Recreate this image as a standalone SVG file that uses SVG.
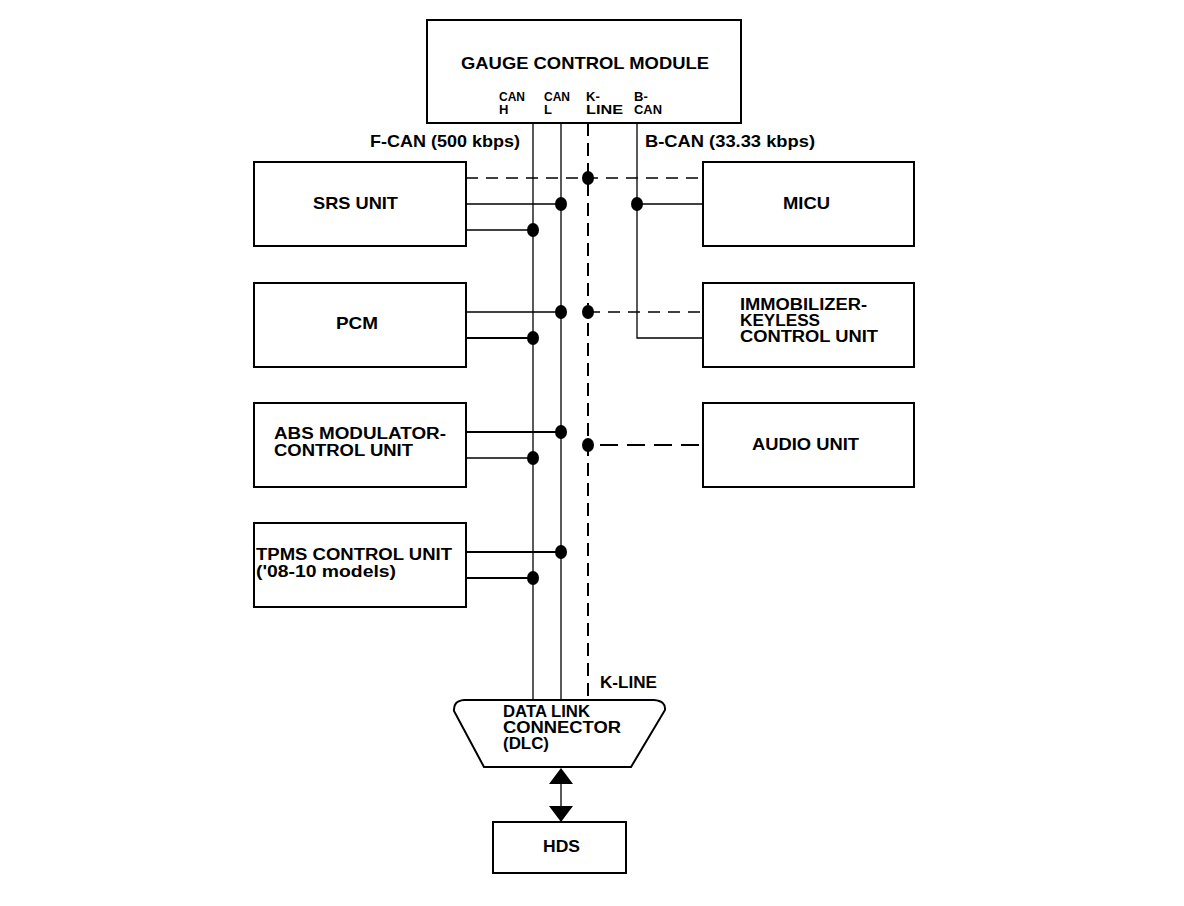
<svg xmlns="http://www.w3.org/2000/svg" width="1184" height="906" viewBox="0 0 1184 906">
<style>
.box{fill:#fff;stroke:#000;stroke-width:2}
.t{font-family:"Liberation Sans",Arial,sans-serif;font-weight:bold;font-size:17px;fill:#000}
.m{font-family:"Liberation Sans",Arial,sans-serif;font-weight:bold;font-size:16px;fill:#000}
.s{font-family:"Liberation Sans",Arial,sans-serif;font-weight:bold;font-size:13px;fill:#000}
.w{fill:none;stroke:#000;stroke-width:1.3}
.wb{fill:none;stroke:#000;stroke-width:2}
.d{fill:none;stroke:#000;stroke-width:1.3;stroke-dasharray:12 8}
.dk{fill:none;stroke:#000;stroke-width:2;stroke-dasharray:13 7}
.da{fill:none;stroke:#000;stroke-width:2;stroke-dasharray:18 9}
.dot{fill:#000}
</style>
<rect width="1184" height="906" fill="#fff"/>
<g id="connectors">
<line class="w" x1="533" y1="123" x2="533" y2="700"/>
<line class="w" x1="561" y1="123" x2="561" y2="700"/>
<line class="dk" x1="588" y1="123" x2="588" y2="700"/>
<polyline class="w" points="637,123 637,338 703,338"/>
<line class="d" x1="466" y1="178" x2="703" y2="178"/>
<line class="w" x1="466" y1="204" x2="561" y2="204"/>
<line class="w" x1="466" y1="230" x2="533" y2="230"/>
<line class="w" x1="637" y1="204" x2="703" y2="204"/>
<line class="w" x1="466" y1="312" x2="561" y2="312"/>
<line class="d" x1="588" y1="312" x2="703" y2="312"/>
<line class="wb" x1="466" y1="338" x2="533" y2="338"/>
<line class="wb" x1="466" y1="432" x2="561" y2="432"/>
<line class="w" x1="466" y1="458" x2="533" y2="458"/>
<line class="da" x1="600" y1="445" x2="703" y2="445"/>
<line class="wb" x1="466" y1="552" x2="561" y2="552"/>
<line class="wb" x1="466" y1="578" x2="533" y2="578"/>
<line class="w" x1="561" y1="782" x2="561" y2="808"/>
<polygon class="dot" points="561,768 549,784 573,784"/>
<polygon class="dot" points="549,806 573,806 561,822"/>
<ellipse class="dot" cx="588" cy="178" rx="6" ry="7"/>
<ellipse class="dot" cx="561" cy="204" rx="6" ry="7"/>
<ellipse class="dot" cx="533" cy="230" rx="6" ry="7"/>
<ellipse class="dot" cx="637" cy="204" rx="6" ry="7"/>
<ellipse class="dot" cx="561" cy="312" rx="6" ry="7"/>
<ellipse class="dot" cx="588" cy="312" rx="6" ry="7"/>
<ellipse class="dot" cx="533" cy="338" rx="6" ry="7"/>
<ellipse class="dot" cx="561" cy="432" rx="6" ry="7"/>
<ellipse class="dot" cx="533" cy="458" rx="6" ry="7"/>
<ellipse class="dot" cx="588" cy="445" rx="6" ry="7"/>
<ellipse class="dot" cx="561" cy="552" rx="6" ry="7"/>
<ellipse class="dot" cx="533" cy="578" rx="6" ry="7"/>
<text class="t" x="370" y="147" textLength="150" lengthAdjust="spacingAndGlyphs">F-CAN (500 kbps)</text>
<text class="t" x="645" y="147" textLength="170" lengthAdjust="spacingAndGlyphs">B-CAN (33.33 kbps)</text>
<text class="t" x="600" y="688" textLength="57" lengthAdjust="spacingAndGlyphs">K-LINE</text>
</g>
<g id="gcm">
<rect class="box" x="427" y="20" width="314" height="103"/>
<text class="t" x="461" y="69" textLength="248" lengthAdjust="spacingAndGlyphs">GAUGE CONTROL MODULE</text>
<text class="s" x="499" y="101" textLength="26" lengthAdjust="spacingAndGlyphs">CAN</text>
<text class="s" x="499" y="114">H</text>
<text class="s" x="544" y="101" textLength="26" lengthAdjust="spacingAndGlyphs">CAN</text>
<text class="s" x="544" y="114">L</text>
<text class="s" x="586" y="101">K-</text>
<text class="s" x="586" y="114" textLength="37" lengthAdjust="spacingAndGlyphs">LINE</text>
<text class="s" x="634" y="101">B-</text>
<text class="s" x="634" y="114" textLength="28" lengthAdjust="spacingAndGlyphs">CAN</text>
</g>
<g id="srs">
<rect class="box" x="254" y="162" width="212" height="84"/>
<text class="t" x="313" y="209" textLength="85" lengthAdjust="spacingAndGlyphs">SRS UNIT</text>
</g>
<g id="micu">
<rect class="box" x="703" y="162" width="211" height="84"/>
<text class="t" x="783" y="209" textLength="47" lengthAdjust="spacingAndGlyphs">MICU</text>
</g>
<g id="pcm">
<rect class="box" x="254" y="283" width="212" height="84"/>
<text class="t" x="336" y="329" textLength="42" lengthAdjust="spacingAndGlyphs">PCM</text>
</g>
<g id="immobilizer">
<rect class="box" x="703" y="283" width="211" height="84"/>
<text class="m" x="740" y="310" textLength="127" lengthAdjust="spacingAndGlyphs">IMMOBILIZER-</text>
<text class="m" x="740" y="326" textLength="80" lengthAdjust="spacingAndGlyphs">KEYLESS</text>
<text class="m" x="740" y="342" textLength="138" lengthAdjust="spacingAndGlyphs">CONTROL UNIT</text>
</g>
<g id="abs">
<rect class="box" x="254" y="403" width="212" height="84"/>
<text class="m" x="274" y="439" textLength="172" lengthAdjust="spacingAndGlyphs">ABS MODULATOR-</text>
<text class="m" x="274" y="456" textLength="139" lengthAdjust="spacingAndGlyphs">CONTROL UNIT</text>
</g>
<g id="audio">
<rect class="box" x="703" y="403" width="211" height="84"/>
<text class="t" x="752" y="450" textLength="107" lengthAdjust="spacingAndGlyphs">AUDIO UNIT</text>
</g>
<g id="tpms">
<rect class="box" x="254" y="523" width="212" height="84"/>
<text class="m" x="256" y="560" textLength="196" lengthAdjust="spacingAndGlyphs">TPMS CONTROL UNIT</text>
<text class="m" x="256" y="577" textLength="140" lengthAdjust="spacingAndGlyphs">('08-10 models)</text>
</g>
<g id="dlc">
<path class="box" d="M464,700 L654,700 Q666,701 665,710 L631,767 L484,767 L454,711 Q453,701 464,700 Z"/>
<text class="m" x="503" y="717" textLength="87" lengthAdjust="spacingAndGlyphs">DATA LINK</text>
<text class="m" x="503" y="733" textLength="118" lengthAdjust="spacingAndGlyphs">CONNECTOR</text>
<text class="m" x="503" y="749" textLength="46" lengthAdjust="spacingAndGlyphs">(DLC)</text>
</g>
<g id="hds">
<rect class="box" x="493" y="822" width="133" height="51"/>
<text class="t" x="543" y="852" textLength="37" lengthAdjust="spacingAndGlyphs">HDS</text>
</g>
</svg>
